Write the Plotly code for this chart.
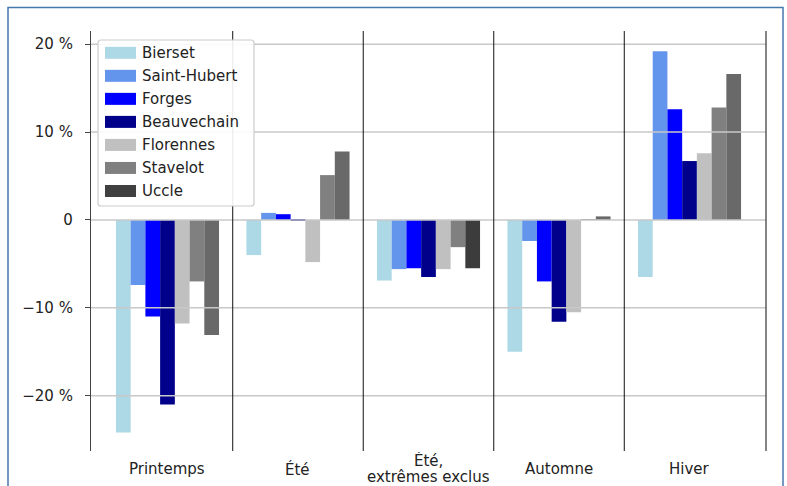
import plotly.graph_objects as go

# Seasonal precipitation change per station (%)
categories = ["Printemps", "Été", "Été,\nextrêmes exclus", "Automne", "Hiver"]
stations = ["Bierset", "Saint-Hubert", "Forges", "Beauvechain", "Florennes", "Stavelot", "Uccle"]

bierset = [-24.2, -4.0, -6.9, -15.0, -6.5]
saint_hubert = [-7.4, 0.8, -5.6, -2.4, 19.2]
forges = [-11.0, 0.65, -5.5, -7.0, 12.6]
beauvechain = [-21.0, -0.1, -6.5, -11.6, 6.7]
florennes = [-11.8, -4.8, -5.6, -10.5, 7.6]
stavelot = [-7.0, 5.1, -3.1, 0.1, 12.8]
uccle = [-13.1, 7.8, -5.5, 0.4, 16.6]

series = [bierset, saint_hubert, forges, beauvechain, florennes, stavelot, uccle]
colors = ["#add8e6", "#6495ed", "#0000ff", "#00008b", "#c0c0c0", "#808080", "#404040"]
uccle_bar_colors = ["#696969", "#696969", "#3c3c3c", "#696969", "#696969"]

y_ticks = [-20, -10, 0, 10, 20]
y_tick_text = ["\u221220 %", "\u221210 %", "0", "10 %", "20 %"]

FONT = "DejaVu Sans"
TEXT = "#222222"

W, H = 787, 486
L, R, T, B = 91, 21, 31, 35
PW, PH = W - L - R, H - T - B


def px_x(p):
    return (p - L) / PW


def px_y(p):
    return (H - B - p) / PH


fig = go.Figure()
x_idx = list(range(len(categories)))
for name, vals, col in zip(stations, series, colors):
    mc = uccle_bar_colors if name == "Uccle" else col
    fig.add_trace(go.Bar(x=x_idx, y=vals, name=name, marker=dict(color=mc, line=dict(width=0)),
                         showlegend=False))

shapes = []
# horizontal gridlines above the bars
for v in y_ticks:
    shapes.append(dict(type="line", xref="x domain", yref="y", x0=0, x1=1, y0=v, y1=v,
                       line=dict(color="#c8c8c8", width=1.5), layer="above"))
# category separators
for i in range(len(categories) - 1):
    shapes.append(dict(type="line", xref="x", yref="y domain", x0=i + 0.5, x1=i + 0.5, y0=0, y1=1,
                       line=dict(color="#111111", width=1), layer="above"))
shapes.append(dict(type="line", xref="x domain", yref="y domain", x0=1, x1=1, y0=0, y1=1,
                   line=dict(color="#333333", width=1.2), layer="above"))

# outer frame
shapes.append(dict(type="rect", xref="paper", yref="paper",
                   x0=px_x(8), x1=px_x(783), y0=px_y(500), y1=px_y(7.5),
                   line=dict(color="#4677ad", width=1.5), fillcolor="rgba(0,0,0,0)", layer="above"))

# legend box with rounded corners
lx0, lx1, ly0, ly1 = 98, 254, 40, 206
r = 3
def rp(px, py):
    return f"{px_x(px):.5f},{px_y(py):.5f}"
path = (f"M{rp(lx0 + r, ly0)} L{rp(lx1 - r, ly0)} Q{rp(lx1, ly0)} {rp(lx1, ly0 + r)} "
        f"L{rp(lx1, ly1 - r)} Q{rp(lx1, ly1)} {rp(lx1 - r, ly1)} "
        f"L{rp(lx0 + r, ly1)} Q{rp(lx0, ly1)} {rp(lx0, ly1 - r)} "
        f"L{rp(lx0, ly0 + r)} Q{rp(lx0, ly0)} {rp(lx0 + r, ly0)} Z")
shapes.append(dict(type="path", xref="paper", yref="paper", path=path,
                   line=dict(color="#cccccc", width=1.2), fillcolor="rgba(255,255,255,0.9)",
                   layer="above"))

annotations = []
for i, (name, col) in enumerate(zip(stations, colors)):
    cy = 52.8 + 23.03 * i
    shapes.append(dict(type="rect", xref="paper", yref="paper",
                       x0=px_x(105), x1=px_x(136), y0=px_y(cy + 6), y1=px_y(cy - 6),
                       line=dict(width=0), fillcolor=col, layer="above"))
    annotations.append(dict(x=px_x(140), y=px_y(cy), xref="paper", yref="paper", text=name,
                            showarrow=False, xanchor="left", yanchor="middle",
                            font=dict(family=FONT, size=15, color=TEXT)))

# category labels under the axis; two-line labels are stacked around the same centre
for i, cat in enumerate(categories):
    lines = cat.split("\n")
    if len(lines) == 1:
        annotations.append(dict(x=i, y=px_y(469), xref="x", yref="paper", text=lines[0],
                                showarrow=False, xanchor="center", yanchor="middle",
                                font=dict(family=FONT, size=15, color=TEXT)))
        continue
    for line_text, yy in zip(lines, [460.5, 476.5]):
        annotations.append(dict(x=i, y=px_y(yy), xref="x", yref="paper", text=line_text,
                                showarrow=False, xanchor="center", yanchor="middle",
                                height=16, borderpad=0,
                                font=dict(family=FONT, size=15, color=TEXT)))

fig.update_layout(
    width=W, height=H,
    margin=dict(l=L, r=R, t=T, b=B, autoexpand=False),
    paper_bgcolor="white", plot_bgcolor="white",
    barmode="group", bargap=0.21, bargroupgap=0,
    font=dict(family=FONT, size=15, color=TEXT),
    shapes=shapes, annotations=annotations,
    showlegend=False,
    xaxis=dict(range=[-0.586, 4.586], showticklabels=False, showgrid=False, zeroline=False,
               showline=False, ticks=""),
    yaxis=dict(range=[-26.3, 21.5], tickvals=y_ticks, ticktext=y_tick_text,
               showgrid=False, zeroline=False, showline=True, linecolor="#444444", linewidth=1.2,
               ticks="outside", ticklen=5, tickcolor="#444444", tickwidth=1,
               ticklabelstandoff=9, tickfont=dict(family=FONT, size=15, color=TEXT)),
)

fig.write_html("out.html")
